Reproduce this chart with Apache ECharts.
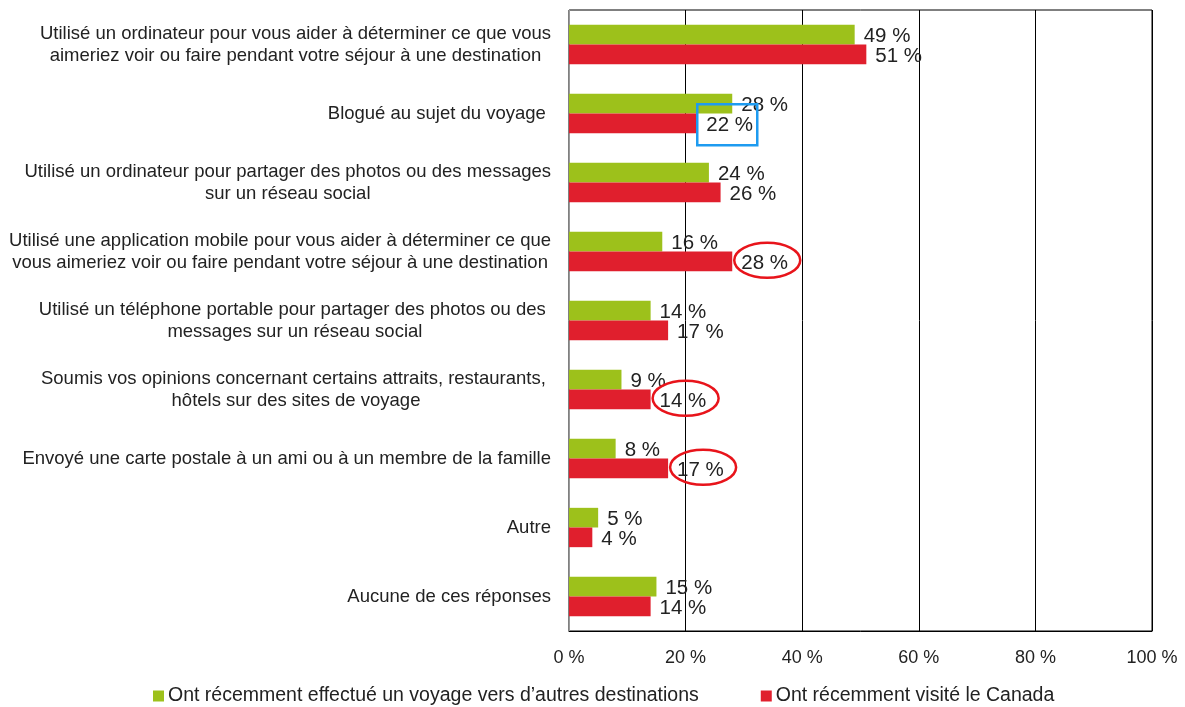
<!DOCTYPE html>
<html>
<head>
<meta charset="utf-8">
<script src="https://cdn.jsdelivr.net/npm/echarts@6/dist/echarts.min.js"></script>
<style>
html,body{margin:0;padding:0;background:#fff;}
#c{width:1185px;height:707px;}
</style>
</head>
<body>
<div id="c"></div>
<script>
const categories = [
  "Utilisé un ordinateur pour vous aider à déterminer ce que vous\naimeriez voir ou faire pendant votre séjour à une destination",
  "Blogué au sujet du voyage ",
  "Utilisé un ordinateur pour partager des photos ou des messages\nsur un réseau social",
  "Utilisé une application mobile pour vous aider à déterminer ce que\nvous aimeriez voir ou faire pendant votre séjour à une destination",
  "Utilisé un téléphone portable pour partager des photos ou des \nmessages sur un réseau social",
  "Soumis vos opinions concernant certains attraits, restaurants, \nhôtels sur des sites de voyage",
  "Envoyé une carte postale à un ami ou à un membre de la famille",
  "Autre",
  "Aucune de ces réponses"
];
const seriesNames = [
  "Ont récemment effectué un voyage vers d’autres destinations",
  "Ont récemment visité le Canada"
];
const otherDestinations = [49, 28, 24, 16, 14, 9, 8, 5, 15];
const visitedCanada = [51, 22, 26, 28, 17, 14, 17, 4, 14];
const xTickValues = [0, 20, 40, 60, 80, 100];
const circledCanadaIdx = [3, 5, 6];
const boxedCanadaIdx = [1];

const FONT = "'Liberation Sans', Arial, sans-serif";
const GREEN = '#9DC11B';
const RED = '#E01F2D';

const chart = echarts.init(document.getElementById('c'), null, {renderer: 'canvas'});
const labelStyle = {
  show: true, position: 'right', distance: 9, offset: [0, 2],
  formatter: p => p.value + ' %',
  color: '#222', fontFamily: FONT, fontSize: 20.5
};
chart.setOption({
  animation: false,
  backgroundColor: '#fff',
  grid: {left: 569, right: 33, top: 10, bottom: 76, show: true, borderColor: '#000', borderWidth: 1},
  legend: {
    data: seriesNames, top: 686, left: 153, padding: 0,
    itemWidth: 11, itemHeight: 11, itemGap: 62,
    icon: 'rect',
    textStyle: {fontFamily: FONT, fontSize: 19.5, color: '#222', padding: [0,0,0,-1], lineHeight: 20}
  },
  xAxis: {
    type: 'value', min: xTickValues[0], max: xTickValues[xTickValues.length - 1], interval: 20,
    axisLine: {show: true, lineStyle: {color: '#000', width: 1}},
    axisTick: {show: false},
    splitLine: {show: true, lineStyle: {color: '#000', width: 1}},
    axisLabel: {formatter: v => v + ' %', fontFamily: FONT, fontSize: 18, color: '#222', margin: 18}
  },
  yAxis: {
    type: 'category', data: categories, inverse: true,
    axisLine: {show: true, lineStyle: {color: '#999', width: 1}},
    axisTick: {show: false},
    axisLabel: {
      margin: 18, align: 'right',
      formatter: v => v.split('\n').map(s => '{c|' + s + '}').join('\n'),
      rich: {c: {align: 'center', fontFamily: FONT, fontSize: 18.5, color: '#222', lineHeight: 22}}
    }
  },
  series: [
    {name: seriesNames[0], type: 'bar', data: otherDestinations, itemStyle: {color: GREEN},
     barGap: '0%', barCategoryGap: '43%', label: labelStyle},
    {name: seriesNames[1], type: 'bar', data: visitedCanada, itemStyle: {color: RED},
     barGap: '0%', barCategoryGap: '43%', label: labelStyle}
  ]
});

function barGeom(seriesIndex, idx) {
  const lay = chart.getModel().getSeriesByIndex(seriesIndex).getData().getItemLayout(idx);
  const top = Math.min(lay.y, lay.y + lay.height);
  return {end: lay.x + lay.width, cy: top + Math.abs(lay.height) / 2};
}
const graphics = [];
circledCanadaIdx.forEach(i => {
  const g = barGeom(1, i);
  graphics.push({type: 'ellipse', shape: {cx: g.end + 35, cy: g.cy - 1, rx: 33, ry: 17.5},
    style: {fill: 'none', stroke: '#E8141B', lineWidth: 2.5}, z: 100});
});
boxedCanadaIdx.forEach(i => {
  const g = barGeom(1, i);
  graphics.push({type: 'rect', shape: {x: g.end, y: g.cy - 19, width: 60, height: 41},
    style: {fill: 'none', stroke: '#1E9BF0', lineWidth: 2.5}, z: 100});
});
chart.setOption({graphic: graphics});
</script>
</body>
</html>
